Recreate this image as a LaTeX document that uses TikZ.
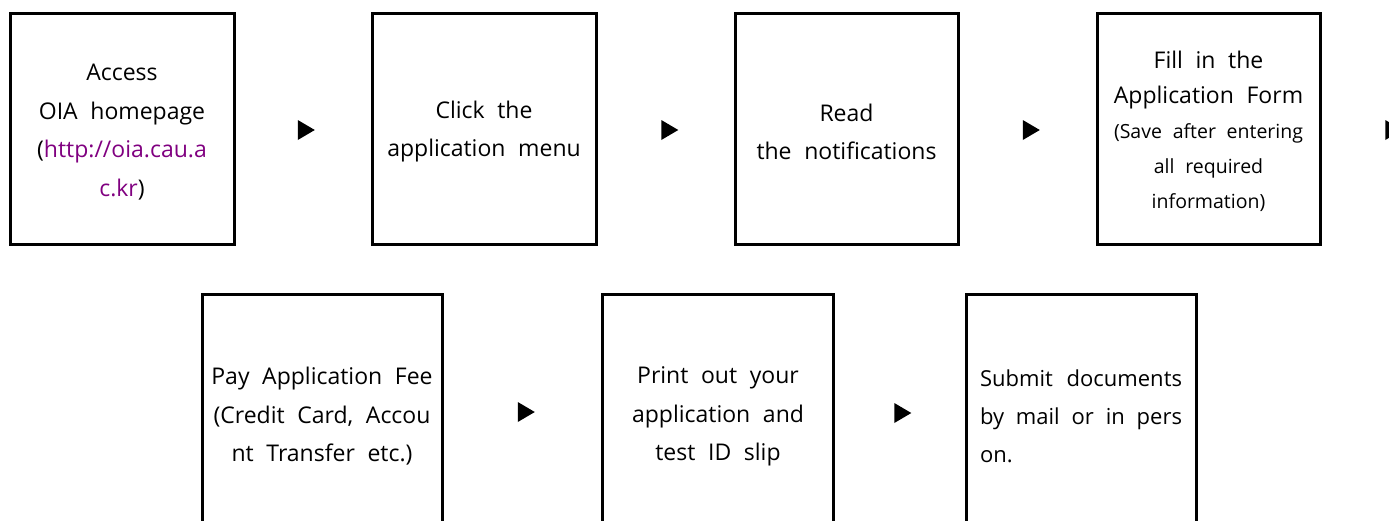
\documentclass[tikz,border=0pt]{standalone}
\usepackage{fontspec}
\setmainfont{Open Sans}
\usetikzlibrary{shapes.geometric}
\definecolor{urlc}{RGB}{128,0,128}
\newcommand\bodyf{\fontsize{23}{38.5}\selectfont\spaceskip=0.55em plus 0.4em\relax}
\newcommand\bodyg{\fontsize{23}{35}\selectfont\spaceskip=0.55em plus 0.4em\relax}
\newcommand\bodyh{\fontsize{22}{38}\selectfont}
\newcommand\smallf{\fontsize{19.5}{35}\selectfont\spaceskip=0.55em plus 0.4em\relax}
\newcommand\jline[1]{\hbox to 202pt{#1}}
\newcommand\tstrut{\rule{0pt}{24pt}}
\begin{document}
\begin{tikzpicture}[x=1pt,y=-1pt,
  stepbox/.style={draw=black, line width=3pt, inner sep=0pt, align=center, font=\bodyf},
  toprow/.style={stepbox, minimum height=231pt},
  botrow/.style={stepbox, minimum height=238pt},
  tri/.style={isosceles triangle, isosceles triangle stretches, shape border rotate=0,
    minimum height=17pt, minimum width=20pt, inner sep=0pt, fill=black, draw=none}]
\useasboundingbox (0,0) rectangle (1389,520);
\clip (0,0) rectangle (1389,520);
% top row
\node[toprow, minimum width=224pt] (b1) at (122,128.5)
  {\tstrut Access\\OIA homepage\\(\textcolor{urlc}{http://oia.cau.a}\\\textcolor{urlc}{c.kr})};
\node[toprow, minimum width=224pt] (b2) at (484,128.5)
  {\tstrut Click the\\application menu};
\node[toprow, minimum width=223pt] (b3) at (846.5,128.5)
  {\tstrut Read\\the notifications};
\node[toprow, minimum width=223pt, font=\bodyg] (b4) at (1208.5,128.5)
  {\tstrut Fill in the\\Application Form\\\smallf (Save after entering\\\smallf all required\\\smallf information)};
\node[tri] (a1) at (303.5,130) {};
\node[tri] (a2) at (667,130) {};
\node[tri] (a3) at (1028.5,130) {};
\node[tri] (a4) at (1391,130) {};
% bottom row
\node[botrow, minimum width=240pt] (b5) at (322,413)
  {\tstrut Pay Application Fee\\(Credit Card, Accou\\nt Transfer etc.)};
\node[botrow, minimum width=231pt] (b6) at (718,413)
  {\tstrut Print out your\\application and\\test ID slip};
\node[botrow, minimum width=230pt, align=left, font=\bodyh] (b7) at (1081,413)
  {\jline{\tstrut Submit\hfil documents}\\\jline{by\hfil mail\hfil or\hfil in\hfil pers}\\\jline{on.\hfil}};
\node[tri] (a5) at (523.5,412) {};
\node[tri] (a6) at (900,413) {};
\end{tikzpicture}
\end{document}
